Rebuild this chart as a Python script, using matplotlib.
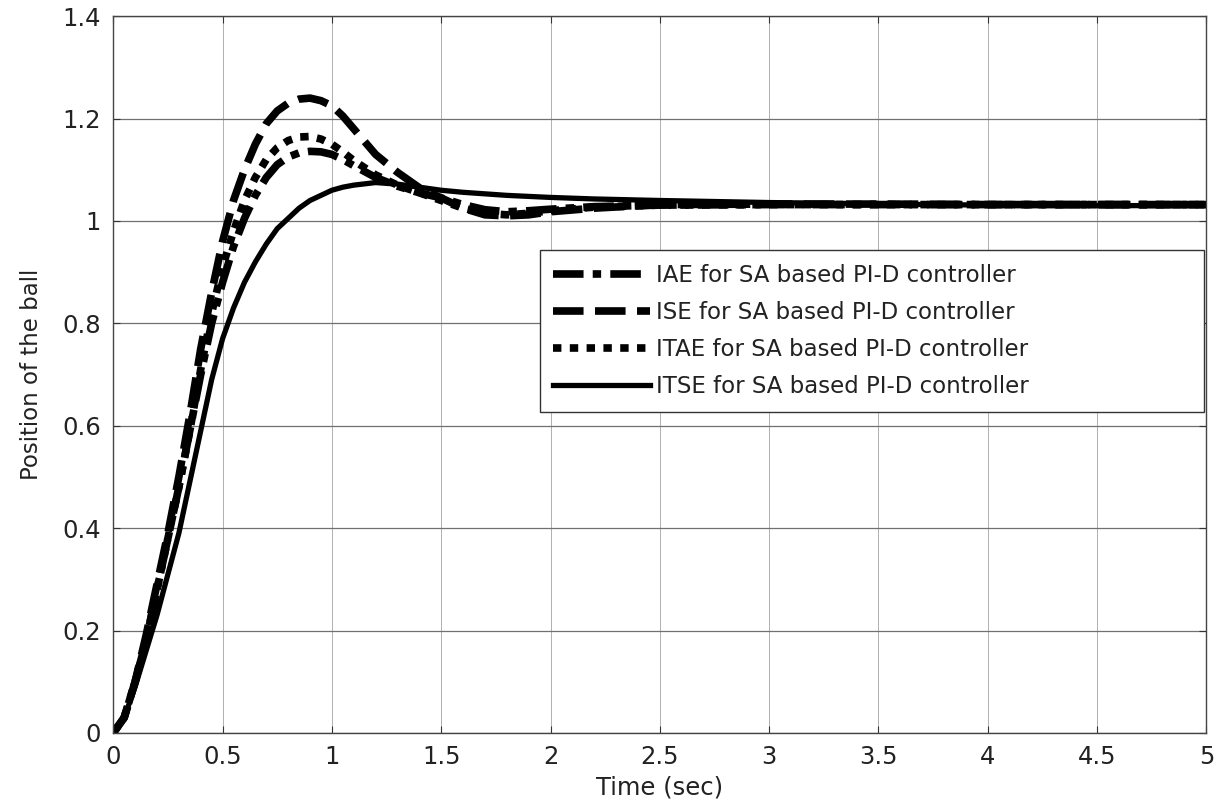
import matplotlib
matplotlib.use('Agg')
import matplotlib.pyplot as plt

# time axis (s) and responses
t = [0, 0.05, 0.1, 0.15, 0.2, 0.25, 0.3, 0.35, 0.4, 0.45, 0.5, 0.55, 0.6, 0.65,
     0.7, 0.75, 0.8, 0.85, 0.9, 0.95, 1.0, 1.05, 1.1, 1.2, 1.3, 1.4, 1.5, 1.6,
     1.7, 1.8, 1.9, 2.0, 2.2, 2.5, 3.0, 3.5, 4.0, 4.5, 5.0]

iae = [0, 0.03, 0.10, 0.18, 0.28, 0.38, 0.48, 0.59, 0.70, 0.80, 0.88, 0.95, 1.005, 1.05,
       1.085, 1.11, 1.125, 1.133, 1.136, 1.135, 1.13, 1.12, 1.108, 1.085, 1.068, 1.055, 1.045, 1.032,
       1.022, 1.018, 1.02, 1.023, 1.028, 1.031, 1.032, 1.032, 1.032, 1.032, 1.032]

ise = [0, 0.03, 0.10, 0.19, 0.29, 0.39, 0.50, 0.62, 0.75, 0.86, 0.96, 1.04, 1.10, 1.15,
       1.19, 1.215, 1.23, 1.238, 1.24, 1.235, 1.225, 1.205, 1.18, 1.13, 1.095, 1.065, 1.045, 1.025,
       1.012, 1.01, 1.012, 1.018, 1.025, 1.032, 1.033, 1.033, 1.032, 1.032, 1.032]

itae = [0, 0.03, 0.10, 0.18, 0.28, 0.38, 0.48, 0.59, 0.71, 0.82, 0.91, 0.98, 1.04, 1.085,
        1.12, 1.143, 1.157, 1.164, 1.165, 1.16, 1.15, 1.135, 1.118, 1.09, 1.07, 1.055, 1.04, 1.025,
        1.015, 1.012, 1.015, 1.02, 1.027, 1.031, 1.032, 1.032, 1.032, 1.032, 1.032]

itse = [0, 0.03, 0.09, 0.16, 0.23, 0.31, 0.39, 0.49, 0.59, 0.69, 0.77, 0.83, 0.88, 0.92,
        0.955, 0.985, 1.005, 1.025, 1.04, 1.05, 1.06, 1.066, 1.07, 1.075, 1.072, 1.066, 1.06, 1.056,
        1.053, 1.05, 1.048, 1.046, 1.043, 1.04, 1.036, 1.033, 1.031, 1.03, 1.03]

labels = ['IAE for SA based PI-D controller',
          'ISE for SA based PI-D controller',
          'ITAE for SA based PI-D controller',
          'ITSE for SA based PI-D controller']

xticks = [0, 0.5, 1, 1.5, 2, 2.5, 3, 3.5, 4, 4.5, 5]
yticks = [0, 0.2, 0.4, 0.6, 0.8, 1, 1.2, 1.4]

fig = plt.figure(figsize=(12.31, 8.09), dpi=100)
ax = fig.add_axes([0.092, 0.094, 0.888, 0.886])

ax.plot(t, iae, color='black', lw=5.5, linestyle=(0, (4, 1.2, 1.1, 1.2)), label=labels[0])
ax.plot(t, ise, color='black', lw=5.5, linestyle=(0, (4, 1.5)), label=labels[1])
ax.plot(t, itae, color='black', lw=5.5, linestyle=(0, (1.1, 1.1)), label=labels[2])
ax.plot(t, itse, color='black', lw=3.8, linestyle='-', label=labels[3])

ax.set_xlim(0, 5)
ax.set_ylim(0, 1.4)
ax.set_xticks(xticks)
ax.set_xticklabels(['0', '0.5', '1', '1.5', '2', '2.5', '3', '3.5', '4', '4.5', '5'])
ax.set_yticks(yticks)
ax.set_yticklabels(['0', '0.2', '0.4', '0.6', '0.8', '1', '1.2', '1.4'])

# matlab-like grid: horizontal darker than vertical
ax.yaxis.grid(True, color='#707070', lw=0.9)
ax.xaxis.grid(True, color='#b0b0b0', lw=0.7)
ax.set_axisbelow(True)

ax.tick_params(direction='in', length=5, width=0.8, top=True, right=True,
               labelsize=17.5, colors='#333333', labelcolor='#222222', pad=9)
for s in ax.spines.values():
    s.set_color('#444444')
    s.set_linewidth(1.0)

ax.set_xlabel('Time (sec)', fontsize=17.5, color='#222222', labelpad=4)
ax.set_ylabel('Position of the ball', fontsize=16.5, color='#222222', labelpad=14)

leg = ax.legend(loc='upper left', bbox_to_anchor=(0.39, 0.474, 0.608, 0.2), mode='expand',
                borderaxespad=0, fontsize=16.5, handlelength=4.2, handletextpad=0.3,
                labelspacing=0.62, borderpad=0.6, fancybox=False, framealpha=1,
                edgecolor='#333333')
leg.get_frame().set_linewidth(1.0)
for txt in leg.get_texts():
    txt.set_color('#222222')

fig.savefig('out.png', dpi=100)
